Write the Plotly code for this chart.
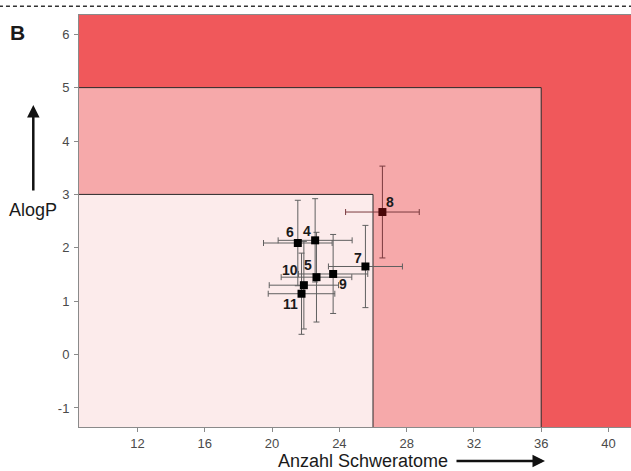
import plotly.graph_objects as go

# ---- data ----
labels = ["4", "5", "6", "7", "8", "9", "10", "11"]
heavy_atoms = [22.56, 22.64, 21.53, 25.55, 26.56, 23.63, 21.89, 21.75]
alogp = [2.14, 1.45, 2.09, 1.65, 2.67, 1.51, 1.30, 1.14]
heavy_err = [2.20, 2.10, 2.04, 2.20, 2.19, 2.06, 2.06, 1.98]
alogp_err = [0.78, 0.84, 0.80, 0.77, 0.86, 0.74, 0.82, 0.76]

x_ticks = [12, 16, 20, 24, 28, 32, 36, 40]
y_ticks = [-1, 0, 1, 2, 3, 4, 5, 6]

# region limits
inner_x, inner_y = 26, 3
middle_x, middle_y = 36, 5

XR = [8.52, 41.34]
YR = [-1.356, 6.36]

FONT = "Liberation Sans, Arial, sans-serif"

fig = go.Figure()

# regions
fig.add_shape(type="rect", xref="x", yref="y", x0=XR[0], x1=middle_x, y0=YR[0], y1=middle_y,
              fillcolor="#F6A9AA", line_width=0, layer="below")
fig.add_shape(type="rect", xref="x", yref="y", x0=XR[0], x1=inner_x, y0=YR[0], y1=inner_y,
              fillcolor="#FCEBEB", line_width=0, layer="below")
for (x0, x1, y0, y1) in [(XR[0], middle_x, middle_y, middle_y), (middle_x, middle_x, YR[0], middle_y),
                         (XR[0], inner_x, inner_y, inner_y), (inner_x, inner_x, YR[0], inner_y)]:
    fig.add_shape(type="line", xref="x", yref="y", x0=x0, x1=x1, y0=y0, y1=y1,
                  line=dict(color="#2a2a2a", width=1), layer="below")

# points
idx_main = [i for i, l in enumerate(labels) if l != "8"]
idx_8 = [i for i, l in enumerate(labels) if l == "8"]

def sub(a, idx):
    return [a[i] for i in idx]

for idx, mcol, ecol in [(idx_main, "#000000", "#606060"), (idx_8, "#4a0608", "#7a3a3e")]:
    fig.add_trace(go.Scatter(
        x=sub(heavy_atoms, idx), y=sub(alogp, idx), mode="markers",
        marker=dict(symbol="square", size=8, color=mcol),
        error_x=dict(type="data", array=sub(heavy_err, idx), color=ecol, thickness=1, width=3),
        error_y=dict(type="data", array=sub(alogp_err, idx), color=ecol, thickness=1, width=3),
        showlegend=False, hoverinfo="skip"))

# label offsets in pixels (x right, y up)
offsets = {"4": (-8, 9), "5": (-8, 12), "6": (-8, 11), "7": (-7, 8), "8": (8, 10),
           "9": (10, -10), "10": (-14, 15), "11": (-11, -10)}
for l, x, y in zip(labels, heavy_atoms, alogp):
    dx, dy = offsets[l]
    fig.add_annotation(x=x, y=y, xref="x", yref="y", text=f"<b>{l}</b>", showarrow=False,
                       xshift=dx, yshift=dy, xanchor="center", yanchor="middle",
                       font=dict(family=FONT, size=14, color="#1a1a1a"))

# dashed line at top
fig.add_shape(type="line", xref="paper", yref="paper", x0=-0.145, x1=1.0, y0=1.021, y1=1.021,
              line=dict(color="#333333", width=1.5, dash="4px,3px"))

# panel letter
fig.add_annotation(xref="paper", yref="paper", x=-0.1114, y=0.9575, text="<b>B</b>", showarrow=False,
                   xanchor="center", yanchor="middle",
                   font=dict(family=FONT, size=21, color="#1a1a1a"))

# y title with arrow
fig.add_annotation(xref="paper", yref="paper", x=-0.0842, y=0.5267, text="AlogP", showarrow=False,
                   xanchor="center", yanchor="middle",
                   font=dict(family=FONT, size=18, color="#1a1a1a"))
fig.add_annotation(xref="paper", yref="paper", x=-0.0828, y=0.7816, ax=0, ay=87, axref="pixel", ayref="pixel",
                   text="", showarrow=True, arrowhead=2, arrowsize=1, arrowwidth=2.5, arrowcolor="#111111")

# x title with arrow
fig.add_annotation(xref="paper", yref="paper", x=0.5145, y=-0.0825, text="Anzahl Schweratome", showarrow=False,
                   xanchor="center", yanchor="middle",
                   font=dict(family=FONT, size=18, color="#1a1a1a"))
fig.add_annotation(xref="paper", yref="paper", x=0.8442, y=-0.0825, ax=-90, ay=0, axref="pixel", ayref="pixel",
                   text="", showarrow=True, arrowhead=2, arrowsize=1, arrowwidth=2.5, arrowcolor="#111111")

fig.update_layout(
    width=631, height=471,
    margin=dict(l=79, r=0, t=15, b=44),
    paper_bgcolor="white", plot_bgcolor="#F0585B",
    font=dict(family=FONT, size=13, color="#4a4a4a"),
    xaxis=dict(range=XR, tickvals=x_ticks, ticktext=[str(v) for v in x_ticks], showgrid=False,
               zeroline=False, showline=True, linecolor="#8a8a8a", linewidth=1, mirror=True,
               ticks="outside", ticklen=4, tickcolor="#8a8a8a", ticklabelstandoff=0),
    yaxis=dict(range=YR, tickvals=y_ticks, ticktext=[str(v) for v in y_ticks], showgrid=False,
               zeroline=False, showline=True, linecolor="#8a8a8a", linewidth=1,
               ticks="outside", ticklen=4, tickcolor="#8a8a8a", ticklabelstandoff=2),
)

fig.write_html("out.html", config={"responsive": False, "displayModeBar": False},
               post_script="document.body.style.margin='0';document.body.style.overflow='hidden';")
